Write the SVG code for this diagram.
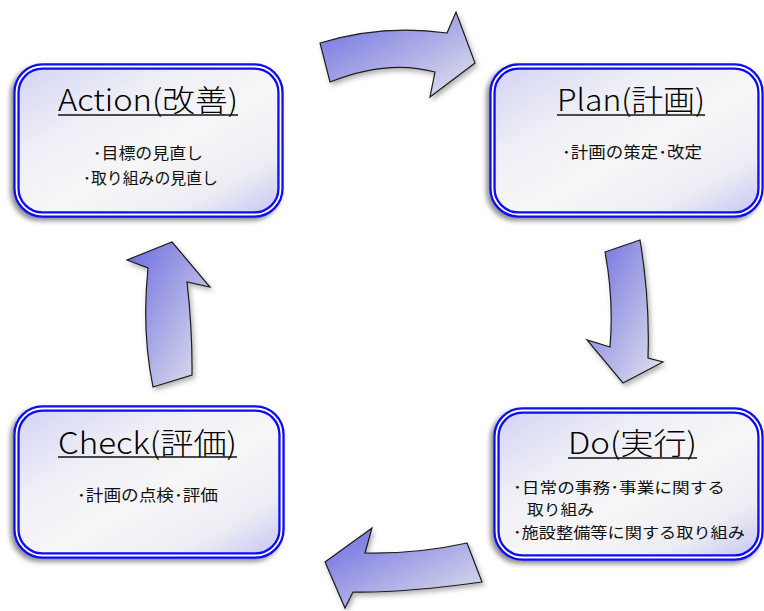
<svg xmlns="http://www.w3.org/2000/svg" width="764" height="611" viewBox="0 0 764 611">
<defs>
<linearGradient id="boxFill" x1="0" y1="0" x2="1" y2="1">
<stop offset="0" stop-color="#d2d2f6"/>
<stop offset="0.3" stop-color="#eeeef6"/>
<stop offset="0.55" stop-color="#f7f7f8"/>
<stop offset="0.8" stop-color="#ececf4"/>
<stop offset="1" stop-color="#c4c4f4"/>
</linearGradient>
<linearGradient id="arrowFill" x1="0" y1="0" x2="1" y2="1">
<stop offset="0" stop-color="#6a6ae2"/>
<stop offset="0.5" stop-color="#a8a8e6"/>
<stop offset="1" stop-color="#e6e6ee"/>
</linearGradient>
<filter id="boxShadow" x="-10%" y="-10%" width="120%" height="125%">
<feDropShadow dx="-3" dy="3" stdDeviation="2.5" flood-color="#000" flood-opacity="0.45"/>
</filter>
<filter id="arrowShadow" x="-20%" y="-20%" width="140%" height="140%">
<feDropShadow dx="2" dy="3" stdDeviation="2.5" flood-color="#555" flood-opacity="0.45"/>
</filter>
</defs>
<style>
.box-outer{fill:url(#boxFill);stroke:#0f0ff0;stroke-width:6.4;filter:url(#boxShadow)}
.box-gap{fill:none;stroke:#ffffff;stroke-width:1.8}
.title{font-family:"Noto Sans CJK JP","Noto Sans",sans-serif;font-size:30px;font-weight:300;fill:#000}
.body{font-family:"Noto Sans CJK JP","Noto Sans",sans-serif;font-size:16px;font-weight:400;fill:#111}
.uline{stroke:#111;stroke-width:1.6}
.arrow{fill:url(#arrowFill);stroke:#1a1a1a;stroke-width:1.2;stroke-linejoin:miter;filter:url(#arrowShadow)}
</style>

<g id="connectors">
<path class="arrow" d="M320,43 Q382.5,24 447,33 L456,12 L475,63 L430,97 L435,72 Q387.5,59 330,82 Z"/>
<path class="arrow" d="M605,252 L640,240 Q650,300 648,358 L663,362 L623,383 L587,340 L610,347 Q614,300 605,252 Z"/>
<path class="arrow" d="M467,543 Q418,554 365,553 L372,528 L325,562 L345,608 L353,592 Q402.5,593 482,582 Z"/>
<path class="arrow" d="M153,387 L192,375 Q192.5,330 187,282 L210,287 L172,242 L127,260 L148,268 Q141.5,330 153,387 Z"/>
</g>

<g id="action">
<rect class="box-outer" x="16.5" y="66.5" width="264" height="148" rx="26"/>
<rect class="box-gap" x="16.5" y="66.5" width="264" height="148" rx="26"/>
<text class="title" x="58" y="111" textLength="180" lengthAdjust="spacingAndGlyphs">Action(改善)</text>
<line class="uline" x1="58" y1="115" x2="238" y2="115"/>
<text class="body" x="93" y="159" textLength="110" lengthAdjust="spacingAndGlyphs">･目標の見直し</text>
<text class="body" x="83" y="184" textLength="135" lengthAdjust="spacingAndGlyphs">･取り組みの見直し</text>
</g>

<g id="plan">
<rect class="box-outer" x="492.5" y="66.5" width="268" height="148" rx="26"/>
<rect class="box-gap" x="492.5" y="66.5" width="268" height="148" rx="26"/>
<text class="title" x="557" y="111" textLength="148" lengthAdjust="spacingAndGlyphs">Plan(計画)</text>
<line class="uline" x1="557" y1="115" x2="705" y2="115"/>
<text class="body" x="562" y="158" textLength="140" lengthAdjust="spacingAndGlyphs">･計画の策定･改定</text>
</g>

<g id="check">
<rect class="box-outer" x="16.5" y="408.5" width="265" height="147" rx="26"/>
<rect class="box-gap" x="16.5" y="408.5" width="265" height="147" rx="26"/>
<text class="title" x="58" y="454" textLength="179" lengthAdjust="spacingAndGlyphs">Check(評価)</text>
<line class="uline" x1="58" y1="457" x2="237" y2="457"/>
<text class="body" x="77" y="501" textLength="141" lengthAdjust="spacingAndGlyphs">･計画の点検･評価</text>
</g>

<g id="do">
<rect class="box-outer" x="496.5" y="410.5" width="264" height="147" rx="26"/>
<rect class="box-gap" x="496.5" y="410.5" width="264" height="147" rx="26"/>
<text class="title" x="568" y="454" textLength="129" lengthAdjust="spacingAndGlyphs">Do(実行)</text>
<line class="uline" x1="568" y1="458" x2="697" y2="458"/>
<text class="body" x="513" y="493" textLength="212" lengthAdjust="spacingAndGlyphs" style="font-size:15px">･日常の事務･事業に関する</text>
<text class="body" x="527" y="515" textLength="67" lengthAdjust="spacingAndGlyphs" style="font-size:15px">取り組み</text>
<text class="body" x="513" y="538" textLength="232" lengthAdjust="spacingAndGlyphs" style="font-size:15px">･施設整備等に関する取り組み</text>
</g>
</svg>
